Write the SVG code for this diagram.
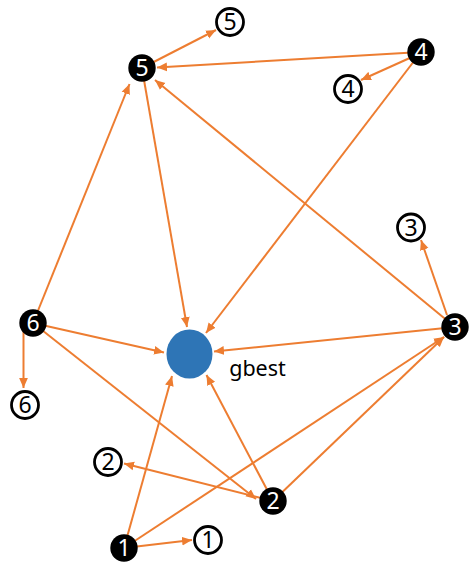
<svg xmlns="http://www.w3.org/2000/svg" width="469" height="568" viewBox="0 0 469 568">
<defs>
<marker id="ah" markerUnits="userSpaceOnUse" markerWidth="12" markerHeight="10" refX="10" refY="5" orient="auto">
<path d="M0,0.6 L10,5 L0,9.4 Z" fill="#ED7D31"/>
</marker>
<style>
.e{stroke:#ED7D31;stroke-width:2;fill:none;marker-end:url(#ah)}
.b circle{fill:#000}
.b text{fill:#fff}
.w circle{fill:#fff;stroke:#000;stroke-width:2.8}
.w text{fill:#000}
text{font-family:"Noto Sans","DejaVu Sans",sans-serif;font-size:23px;text-anchor:middle}
</style>
</defs>
<rect width="469" height="568" fill="#fff"/>
<g id="connectors">
<line class="e" x1="142" y1="68" x2="216" y2="30"/>
<line class="e" x1="421" y1="52" x2="157" y2="67.5"/>
<line class="e" x1="412" y1="57" x2="361" y2="80"/>
<line class="e" x1="421" y1="52" x2="206" y2="333"/>
<line class="e" x1="144" y1="80" x2="187" y2="327"/>
<line class="e" x1="455" y1="327" x2="155" y2="80"/>
<line class="e" x1="447" y1="315" x2="421" y2="240"/>
<line class="e" x1="455" y1="327" x2="214" y2="351.5"/>
<line class="e" x1="33" y1="323" x2="129.5" y2="84"/>
<line class="e" x1="33" y1="323" x2="164" y2="352.5"/>
<line class="e" x1="23.5" y1="323" x2="23.5" y2="388"/>
<line class="e" x1="33" y1="323" x2="256" y2="499"/>
<line class="e" x1="273" y1="501" x2="124" y2="463.5"/>
<line class="e" x1="273" y1="501" x2="206.5" y2="375"/>
<line class="e" x1="273" y1="501" x2="444" y2="337"/>
<line class="e" x1="124" y1="548" x2="444" y2="337"/>
<line class="e" x1="124" y1="548" x2="172" y2="376"/>
<line class="e" x1="124" y1="548" x2="192" y2="540"/>
</g>
<g id="gbest">
<ellipse cx="189.5" cy="354" rx="23" ry="24.5" fill="#2E75B6"/>
<text x="257.5" y="376" style="font-size:21.5px">gbest</text>
</g>
<g id="n5" class="b"><circle cx="142" cy="68" r="13.7"/><text x="142" y="76">5</text></g>
<g id="m5" class="w"><circle cx="230" cy="22" r="13.5"/><text x="230" y="30">5</text></g>
<g id="n4" class="b"><circle cx="421" cy="52" r="13.7"/><text x="421" y="60">4</text></g>
<g id="m4" class="w"><circle cx="348" cy="89" r="13.5"/><text x="348" y="97">4</text></g>
<g id="n3" class="b"><circle cx="455" cy="327" r="13.7"/><text x="455" y="335">3</text></g>
<g id="m3" class="w"><circle cx="411" cy="227.5" r="13.5"/><text x="411" y="235.5">3</text></g>
<g id="n6" class="b"><circle cx="33" cy="323" r="13.7"/><text x="33" y="331">6</text></g>
<g id="m6" class="w"><circle cx="25" cy="405" r="13.5"/><text x="25" y="413">6</text></g>
<g id="n2" class="b"><circle cx="273" cy="501" r="13.7"/><text x="273" y="509">2</text></g>
<g id="m2" class="w"><circle cx="108" cy="462" r="13.5"/><text x="108" y="470">2</text></g>
<g id="n1" class="b"><circle cx="124" cy="548" r="13.7"/><text x="124" y="556">1</text></g>
<g id="m1" class="w"><circle cx="208" cy="540" r="13.5"/><text x="208" y="548">1</text></g>
</svg>
